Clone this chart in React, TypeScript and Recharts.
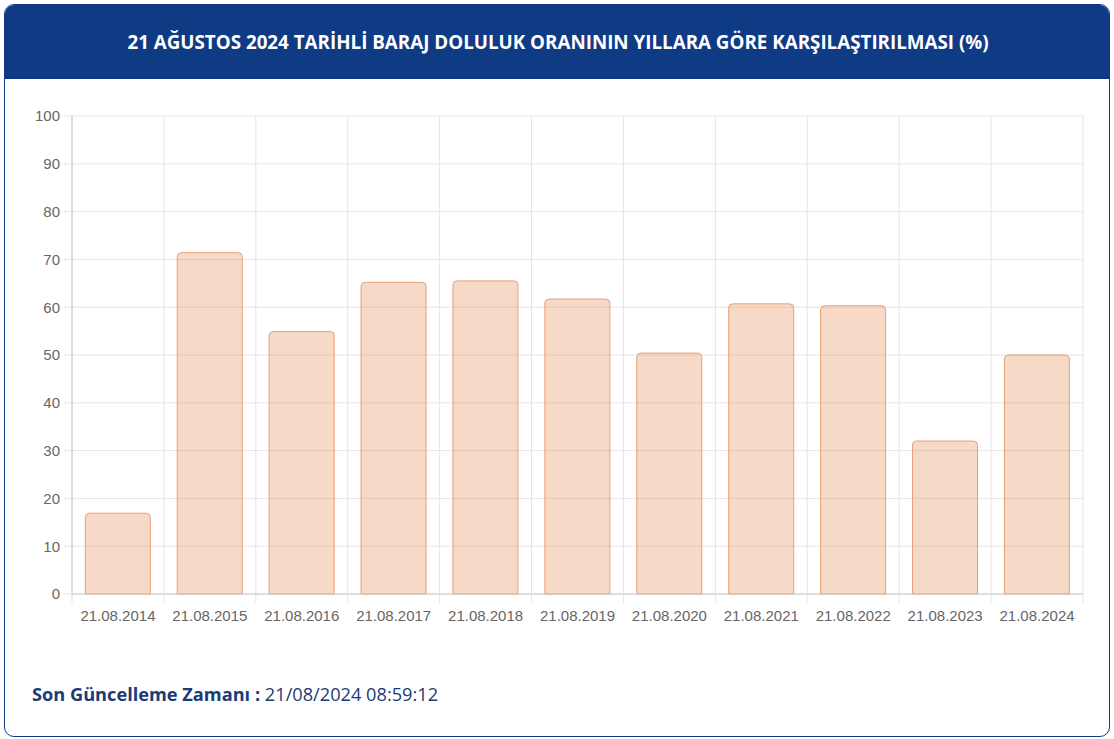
import React from 'react';
import { BarChart, Bar, XAxis, YAxis, CartesianGrid } from 'recharts';

const categories = ['21.08.2014', '21.08.2015', '21.08.2016', '21.08.2017', '21.08.2018', '21.08.2019', '21.08.2020', '21.08.2021', '21.08.2022', '21.08.2023', '21.08.2024'];
const values = [16.9, 71.4, 54.9, 65.2, 65.5, 61.7, 50.4, 60.7, 60.3, 32.0, 50.0];
const yTicks = [0, 10, 20, 30, 40, 50, 60, 70, 80, 90, 100];

const titleText = '21 AĞUSTOS 2024 TARİHLİ BARAJ DOLULUK ORANININ YILLARA GÖRE KARŞILAŞTIRILMASI (%)';
const footerLabel = 'Son Güncelleme Zamanı :';
const footerValue = '21/08/2024 08:59:12';

const data = categories.map((c, i) => ({ name: c, value: values[i] }));

const CHART_W = 1114;
const CHART_H = 739;
const MARGIN = { top: 116, right: 31, left: 12, bottom: 115 };
const Y_AXIS_W = 60;
const X_AXIS_H = 30;
const PLOT_LEFT = MARGIN.left + Y_AXIS_W;
const PLOT_W = CHART_W - PLOT_LEFT - MARGIN.right;
const PLOT_BOTTOM = CHART_H - MARGIN.bottom - X_AXIS_H;
const BAND = PLOT_W / categories.length;

const NAVY = '#0f3a84';
const GRID = '#e5e5e5';
const AXIS = '#c9c9c9';
const LABEL = '#666666';
const FONT = '"Liberation Sans", Arial, sans-serif';
const HEAD_FONT = '"Open Sans", Lato, sans-serif';

const XTick = (props: any) => {
  const { x, payload, index } = props;
  const left = x - BAND / 2;
  const right = x + BAND / 2;
  return (
    <g>
      <line x1={left} x2={left} y1={PLOT_BOTTOM} y2={PLOT_BOTTOM + 9} stroke={GRID} />
      {index === categories.length - 1 && (
        <line x1={right} x2={right} y1={PLOT_BOTTOM} y2={PLOT_BOTTOM + 9} stroke={GRID} />
      )}
      <text x={x} y={PLOT_BOTTOM + 16} dy="0.71em" textAnchor="middle" fill={LABEL} fontSize={15} fontFamily={FONT}>
        {payload.value}
      </text>
    </g>
  );
};

const verticalGen = ({ offset }: any) => {
  const arr: number[] = [];
  for (let i = 0; i <= categories.length; i++) {
    arr.push(offset.left + (i * offset.width) / categories.length);
  }
  return arr;
};

export default function App() {
  return (
    <div style={{ position: 'fixed', left: 0, top: 0, width: CHART_W, height: CHART_H, background: '#fff' }}>
      <div
        style={{
          position: 'absolute',
          left: 4,
          top: 4,
          width: 1104,
          height: 731,
          border: `1px solid ${NAVY}`,
          borderRadius: 10,
          overflow: 'hidden',
          boxSizing: 'content-box',
        }}
      >
        <div
          style={{
            height: 74,
            background: NAVY,
            color: '#fff',
            display: 'flex',
            alignItems: 'center',
            justifyContent: 'center',
            fontFamily: HEAD_FONT,
            fontWeight: 700,
            fontSize: 18.8,
            paddingLeft: 2,
            whiteSpace: 'nowrap',
          }}
        >
          {titleText}
        </div>
        <div
          style={{
            position: 'absolute',
            left: 27,
            top: 677,
            fontFamily: HEAD_FONT,
            fontSize: 18.2,
            color: '#1b3a78',
            whiteSpace: 'nowrap',
          }}
        >
          <span style={{ fontWeight: 700 }}>{footerLabel}</span> <span>{footerValue}</span>
        </div>
      </div>
      <div style={{ position: 'absolute', left: 0, top: 0 }}>
        <BarChart width={CHART_W} height={CHART_H} data={data} margin={MARGIN} barCategoryGap="14.5%">
          <CartesianGrid stroke={GRID} verticalCoordinatesGenerator={verticalGen} />
          <XAxis
            dataKey="name"
            height={X_AXIS_H}
            interval={0}
            tickLine={false}
            axisLine={{ stroke: AXIS }}
            tick={<XTick />}
          />
          <YAxis
            width={Y_AXIS_W}
            domain={[0, 100]}
            ticks={yTicks}
            interval={0}
            tickSize={8}
            tickMargin={4}
            axisLine={{ stroke: AXIS }}
            tickLine={{ stroke: GRID }}
            tick={{ fill: LABEL, fontSize: 15, fontFamily: FONT }}
          />
          <Bar
            dataKey="value"
            fill="rgba(225,130,70,0.3)"
            stroke="#e8a074"
            strokeWidth={1}
            radius={[4, 4, 0, 0]}
            isAnimationActive={false}
          />
        </BarChart>
      </div>
    </div>
  );
}
